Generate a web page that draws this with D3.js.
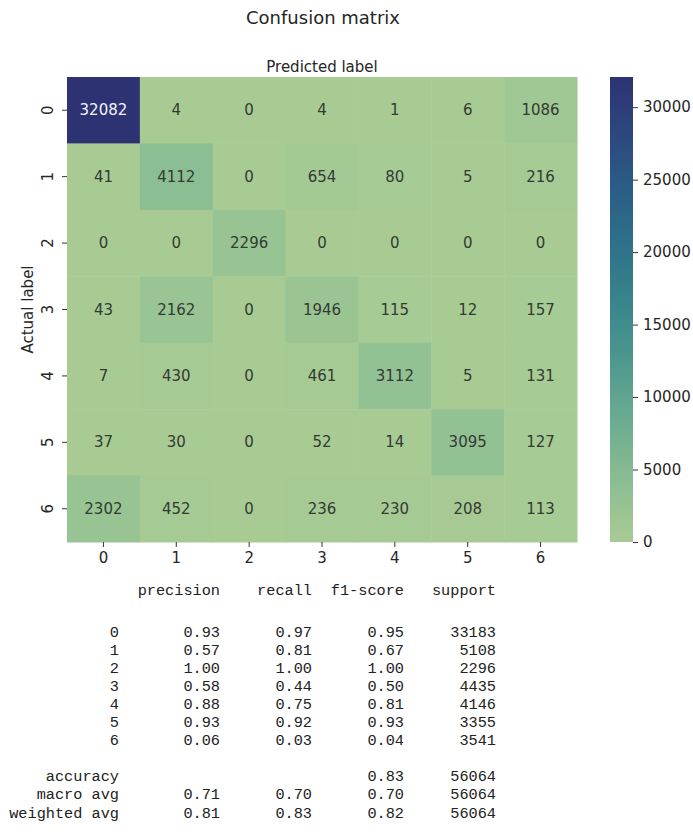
<!DOCTYPE html>
<html>
<head>
<meta charset="utf-8">
<script src="https://cdn.jsdelivr.net/npm/d3@7"></script>
<style>
  html, body { margin: 0; padding: 0; background: #ffffff; }
  svg { display: block; }
</style>
</head>
<body>
<svg id="chart" width="693" height="837"></svg>
<script>
// Class labels shared by both axes and the report
const classes = ["0", "1", "2", "3", "4", "5", "6"];

// Confusion matrix: one array per actual label, columns are predicted labels
const row0 = [32082, 4, 0, 4, 1, 6, 1086];
const row1 = [41, 4112, 0, 654, 80, 5, 216];
const row2 = [0, 0, 2296, 0, 0, 0, 0];
const row3 = [43, 2162, 0, 1946, 115, 12, 157];
const row4 = [7, 430, 0, 461, 3112, 5, 131];
const row5 = [37, 30, 0, 52, 14, 3095, 127];
const row6 = [2302, 452, 0, 236, 230, 208, 113];
const matrixRows = [row0, row1, row2, row3, row4, row5, row6];

// Colour bar ticks
const colorbarTicks = [0, 5000, 10000, 15000, 20000, 25000, 30000];

// Classification report
const reportHeader = ["precision", "recall", "f1-score", "support"];
const precision = ["0.93", "0.57", "1.00", "0.58", "0.88", "0.93", "0.06"];
const recall    = ["0.97", "0.81", "1.00", "0.44", "0.75", "0.92", "0.03"];
const f1score   = ["0.95", "0.67", "1.00", "0.50", "0.81", "0.93", "0.04"];
const support   = ["33183", "5108", "2296", "4435", "4146", "3355", "3541"];
const summaryLabels    = ["accuracy", "macro avg", "weighted avg"];
const summaryPrecision = ["", "0.71", "0.81"];
const summaryRecall    = ["", "0.70", "0.83"];
const summaryF1        = ["0.83", "0.70", "0.82"];
const summarySupport   = ["56064", "56064", "56064"];

// Seaborn "crest"-like colour ramp, light green to deep indigo
const crestStops = ["#a8cb94", "#88bd92", "#64a890", "#46928e", "#317c8b",
                    "#2a6588", "#2c4c80", "#2d3273"];

const svg = d3.select("#chart");
const sansFont = "DejaVu Sans, Verdana, sans-serif";
const monoFont = "Liberation Mono, DejaVu Sans Mono, monospace";

const plotLeft = 67, plotRight = 577, plotTop = 77, plotBottom = 542;

const x = d3.scaleBand().domain(classes).range([plotLeft, plotRight]);
const y = d3.scaleBand().domain(classes).range([plotTop, plotBottom]);
const vmax = d3.max(matrixRows, r => d3.max(r));
const color = d3.scaleSequential([0, vmax], d3.interpolateRgbBasis(crestStops));

const cells = [];
matrixRows.forEach((r, i) => r.forEach((v, j) => cells.push({ actual: classes[i], predicted: classes[j], value: v })));

// Relative luminance, used to pick the annotation colour per cell
function luminance(c) {
  const rgb = d3.rgb(c);
  const f = v => { v /= 255; return v <= 0.03928 ? v / 12.92 : Math.pow((v + 0.055) / 1.055, 2.4); };
  return 0.2126 * f(rgb.r) + 0.7152 * f(rgb.g) + 0.0722 * f(rgb.b);
}

// Title
svg.append("text")
  .attr("x", 323).attr("y", 24)
  .attr("text-anchor", "middle")
  .attr("font-family", sansFont).attr("font-size", 18)
  .attr("fill", "#262626")
  .text("Confusion matrix");

// Heatmap cells
svg.append("g").selectAll("rect").data(cells).join("rect")
  .attr("x", d => x(d.predicted))
  .attr("y", d => y(d.actual))
  .attr("width", x.bandwidth() + 0.5)
  .attr("height", y.bandwidth() + 0.5)
  .attr("fill", d => color(d.value));

// Cell annotations
svg.append("g").selectAll("text").data(cells).join("text")
  .attr("x", d => x(d.predicted) + x.bandwidth() / 2)
  .attr("y", d => y(d.actual) + y.bandwidth() / 2)
  .attr("text-anchor", "middle")
  .attr("dominant-baseline", "central")
  .attr("font-family", sansFont).attr("font-size", 15)
  .attr("fill", d => luminance(color(d.value)) > 0.408 ? "#333b33" : "#f2f2f7")
  .text(d => d.value);

// Predicted label on top
svg.append("text")
  .attr("x", (plotLeft + plotRight) / 2).attr("y", 72)
  .attr("text-anchor", "middle")
  .attr("font-family", sansFont).attr("font-size", 15)
  .attr("fill", "#262626")
  .text("Predicted label");

// Bottom axis
const xAxis = svg.append("g")
  .attr("transform", `translate(0,${plotBottom})`)
  .call(d3.axisBottom(x).tickSize(5).tickPadding(5));
xAxis.select(".domain").remove();
xAxis.selectAll("line").attr("stroke", "#333");
xAxis.selectAll("text")
  .attr("font-family", sansFont).attr("font-size", 15).attr("fill", "#262626");

// Left axis with vertical labels
const yAxis = svg.append("g")
  .attr("transform", `translate(${plotLeft},0)`)
  .call(d3.axisLeft(y).tickSize(5));
yAxis.select(".domain").remove();
yAxis.selectAll("line").attr("stroke", "#333");
yAxis.selectAll("text")
  .attr("font-family", sansFont).attr("font-size", 15).attr("fill", "#262626")
  .attr("x", null).attr("dy", null)
  .attr("text-anchor", "middle")
  .attr("dominant-baseline", "central")
  .attr("transform", "translate(-19,0) rotate(-90)");

svg.append("text")
  .attr("transform", `translate(28,${(plotTop + plotBottom) / 2}) rotate(-90)`)
  .attr("text-anchor", "middle")
  .attr("dominant-baseline", "central")
  .attr("font-family", sansFont).attr("font-size", 15)
  .attr("fill", "#262626")
  .text("Actual label");

// Colour bar
const cbLeft = 610, cbWidth = 23;
const cbScale = d3.scaleLinear().domain([0, vmax]).range([plotBottom, plotTop]);
const grad = svg.append("defs").append("linearGradient")
  .attr("id", "cbgrad").attr("x1", 0).attr("y1", 1).attr("x2", 0).attr("y2", 0);
d3.range(0, 1.0001, 0.05).forEach(t => {
  grad.append("stop").attr("offset", t).attr("stop-color", color(t * vmax));
});
svg.append("rect")
  .attr("x", cbLeft).attr("y", plotTop)
  .attr("width", cbWidth).attr("height", plotBottom - plotTop)
  .attr("fill", "url(#cbgrad)");
const cbAxis = svg.append("g")
  .attr("transform", `translate(${cbLeft + cbWidth},0)`)
  .call(d3.axisRight(cbScale).tickValues(colorbarTicks).tickSize(5).tickPadding(5).tickFormat(d3.format("d")));
cbAxis.select(".domain").remove();
cbAxis.selectAll("line").attr("stroke", "#333");
cbAxis.selectAll("text")
  .attr("font-family", sansFont).attr("font-size", 15).attr("fill", "#262626");

// Classification report, laid out in right-aligned monospace columns
const colRight = [119, 220, 312, 404, 496];
const lineStep = 18.1;
const firstRow = 636.5;
const report = svg.append("g")
  .attr("font-family", monoFont).attr("font-size", 15.25)
  .attr("fill", "#222222").attr("text-anchor", "end");

reportHeader.forEach((h, k) => {
  report.append("text").attr("x", colRight[k + 1]).attr("y", 595).text(h);
});

const classRows = classes.map((c, i) => [c, precision[i], recall[i], f1score[i], support[i]]);
classRows.forEach((r, i) => {
  r.forEach((v, k) => {
    report.append("text").attr("x", colRight[k]).attr("y", firstRow + i * lineStep).text(v);
  });
});

const summaryRows = summaryLabels.map((l, i) => [l, summaryPrecision[i], summaryRecall[i], summaryF1[i], summarySupport[i]]);
summaryRows.forEach((r, i) => {
  r.forEach((v, k) => {
    if (v) report.append("text").attr("x", colRight[k]).attr("y", firstRow + (8 + i) * lineStep).text(v);
  });
});
</script>
</body>
</html>
